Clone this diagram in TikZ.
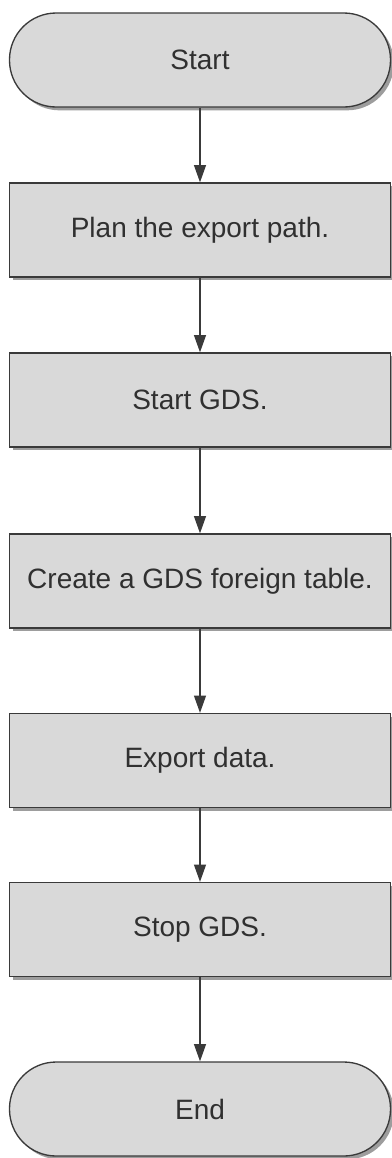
\documentclass[tikz,border=0pt]{standalone}
\usepackage{fontspec}
\setmainfont{Liberation Sans}
\usepackage{tikz}
\usetikzlibrary{arrows.meta, shadows}

\definecolor{boxfill}{HTML}{D9D9D9}
\definecolor{boxline}{HTML}{3A3A3A}
\definecolor{boxtext}{HTML}{303030}

\tikzset{
    stepbox/.style={draw=boxline, line width=1pt, fill=boxfill, text=boxtext,
        minimum width=285.75pt, minimum height=70.5pt, inner sep=0pt,
        font=\fontsize{21}{25}\selectfont,
        drop shadow={shadow xshift=2.5pt, shadow yshift=-2.5pt, fill=black!55, opacity=0.7}},
    terminal/.style={stepbox, rounded corners=35pt},
    flow/.style={draw=boxline, line width=1pt, -{Triangle[length=13pt,width=9pt]}}
}

\begin{document}
\begin{tikzpicture}[x=0.75pt, y=-0.75pt]
        \useasboundingbox (0,0) rectangle (392,1158);

        \node[terminal] (start) at (200,60) {Start};
        \node[stepbox] (plan) at (200,230) {Plan the export path.};
        \node[stepbox] (gdsup) at (200,400) {Start GDS.};
        \node[stepbox] (table) at (200,581) {Create a GDS foreign table.};
        \node[stepbox] (export) at (200,760.5) {Export data.};
        \node[stepbox] (gdsdown) at (200,929.5) {Stop GDS.};
        \node[terminal] (end) at (200,1109) {End};

        \draw[flow] (start) -- (plan);
        \draw[flow] (plan) -- (gdsup);
        \draw[flow] (gdsup) -- (table);
        \draw[flow] (table) -- (export);
        \draw[flow] (export) -- (gdsdown);
        \draw[flow] (gdsdown) -- (end);
    \end{tikzpicture}
\end{document}
